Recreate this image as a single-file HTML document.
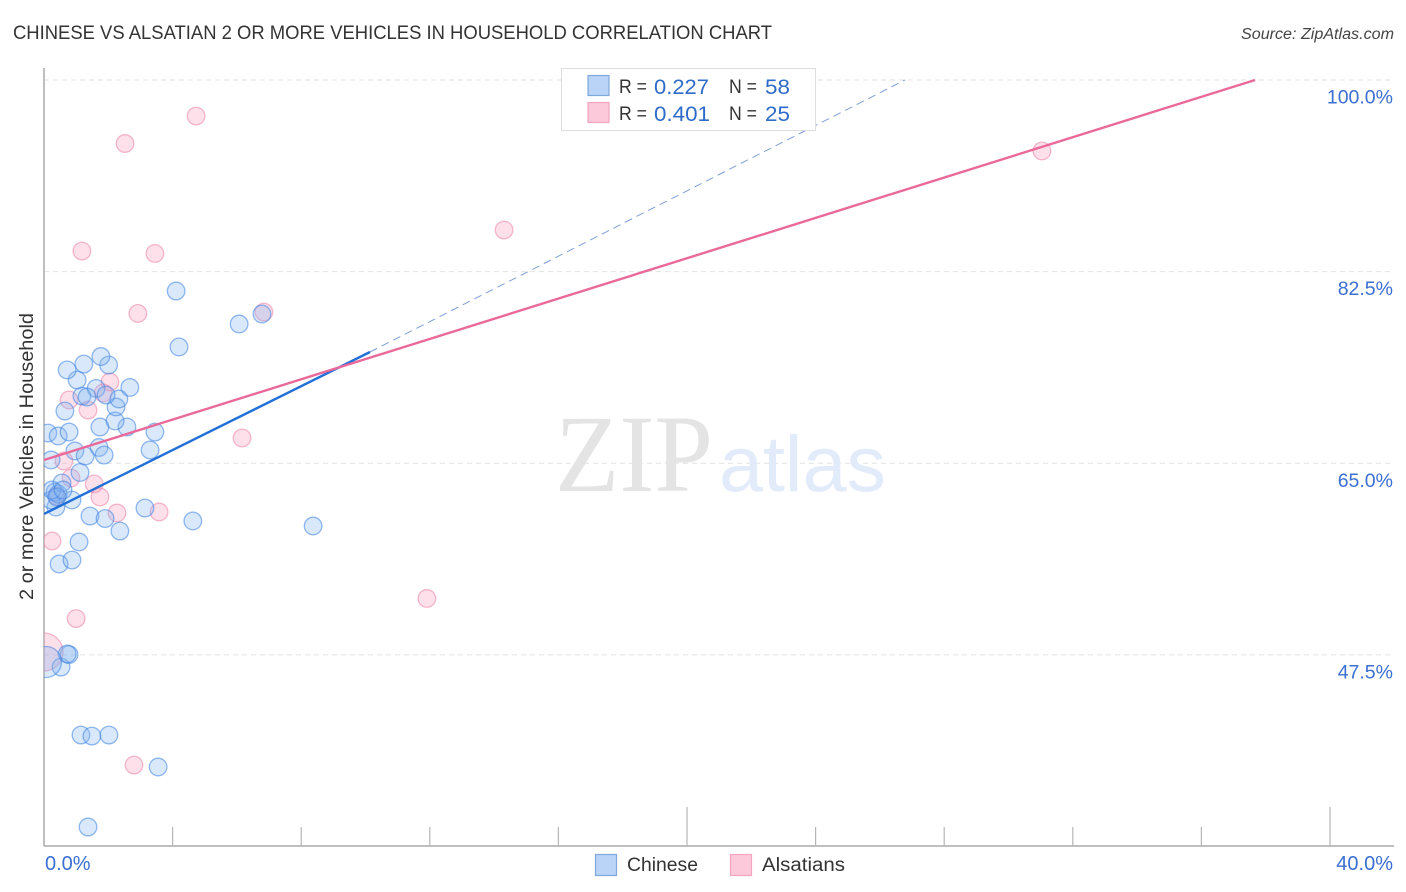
<!DOCTYPE html>
<html lang="en">
<head>
<meta charset="utf-8">
<title>Chinese vs Alsatian 2 or more Vehicles in Household Correlation Chart</title>
<style>
html,body{margin:0;padding:0;background:#fff;width:1406px;height:892px;overflow:hidden}
svg{display:block;font-family:"Liberation Sans",sans-serif}
</style>
</head>
<body>
<svg id="chart" width="1406" height="892" viewBox="0 0 1406 892" xmlns="http://www.w3.org/2000/svg">
  <defs><clipPath id="plot-clip"><rect x="44" y="68" width="1350" height="778"/></clipPath></defs>
  <text x="13" y="39" font-size="19" fill="#333" textLength="759" lengthAdjust="spacingAndGlyphs">CHINESE VS ALSATIAN 2 OR MORE VEHICLES IN HOUSEHOLD CORRELATION CHART</text>
  <text x="1241" y="39" font-size="15.5" font-style="italic" fill="#444" textLength="153" lengthAdjust="spacingAndGlyphs">Source: ZipAtlas.com</text>
  <text transform="translate(33,600) rotate(-90)" font-size="19" fill="#333" textLength="287" lengthAdjust="spacingAndGlyphs">2 or more Vehicles in Household</text>
  <g id="grid"></g>
  <g>
    <text x="555" y="491" font-family="'Liberation Serif',serif" font-size="110" fill="#e4e4e4" textLength="158" lengthAdjust="spacingAndGlyphs">ZIP</text>
    <text x="719" y="491" font-size="79" fill="#e2ebfa" textLength="167" lengthAdjust="spacingAndGlyphs">atlas</text>
  </g>
  <g id="axes"></g>
  <g id="alsatian-points" clip-path="url(#plot-clip)"></g>
  <g id="chinese-points" clip-path="url(#plot-clip)"></g>
  <g id="trends" clip-path="url(#plot-clip)"></g>
  <g>
    <rect x="561.5" y="68.5" width="254" height="62" fill="#fff" stroke="#ddd" stroke-width="1"/>
    <rect x="588" y="75.5" width="21" height="20" fill="#b9d4f7" stroke="#7fa9dc" stroke-width="1.2"/>
    <rect x="588" y="102.5" width="21" height="20" fill="#fcc9da" stroke="#f2a5bd" stroke-width="1.2"/>
    <text x="619" y="93" font-size="19" fill="#333" textLength="28" lengthAdjust="spacingAndGlyphs">R =</text>
    <text x="654" y="94" font-size="21.5" fill="#2f6cc9" textLength="55" lengthAdjust="spacingAndGlyphs">0.227</text>
    <text x="729" y="93" font-size="19" fill="#333" textLength="28" lengthAdjust="spacingAndGlyphs">N =</text>
    <text x="765" y="94" font-size="21.5" fill="#2f6cc9" textLength="25" lengthAdjust="spacingAndGlyphs">58</text>
    <text x="619" y="120" font-size="19" fill="#333" textLength="28" lengthAdjust="spacingAndGlyphs">R =</text>
    <text x="654" y="121" font-size="21.5" fill="#2f6cc9" textLength="56" lengthAdjust="spacingAndGlyphs">0.401</text>
    <text x="729" y="120" font-size="19" fill="#333" textLength="28" lengthAdjust="spacingAndGlyphs">N =</text>
    <text x="765" y="121" font-size="21.5" fill="#2f6cc9" textLength="25" lengthAdjust="spacingAndGlyphs">25</text>
  </g>
  <g>
    <rect x="595.5" y="854.5" width="21" height="21" fill="#b9d4f7" stroke="#7fa9dc" stroke-width="1.2"/>
    <text x="627" y="871" font-size="19" fill="#333" textLength="71" lengthAdjust="spacingAndGlyphs">Chinese</text>
    <rect x="730.5" y="854.5" width="21" height="21" fill="#fcc9da" stroke="#f2a5bd" stroke-width="1.2"/>
    <text x="762" y="871" font-size="19" fill="#333" textLength="83" lengthAdjust="spacingAndGlyphs">Alsatians</text>
  </g>
</svg>
<script>
const chineseX = [1.37,3.55,1.15,1.49,2.02,0.53,0.78,0.72,0.06,0.47,0.87,1.09,2.36,1.43,1.90,4.63,8.37,3.14,0.87,0.37,0.22,0.34,0.44,0.25,0.56,0.40,0.59,1.12,0.22,0.12,0.44,0.78,3.45,3.30,1.71,0.96,1.28,1.87,1.74,2.58,2.21,2.24,2.33,2.67,1.62,1.18,1.34,1.93,0.65,1.03,0.72,1.24,2.01,1.77,4.20,4.11,6.07,6.78];
const chineseY = [31.78,37.26,40.18,40.09,40.18,46.39,47.53,47.58,46.85,55.8,56.16,57.81,58.81,60.18,59.95,59.73,59.27,60.91,61.64,61.0,61.64,62.37,62.19,62.56,63.2,61.92,62.56,64.16,65.3,67.76,67.49,67.85,67.85,66.21,66.44,66.12,65.66,65.75,68.31,68.31,68.86,70.14,70.87,71.92,71.83,71.14,71.05,71.23,69.77,72.6,73.52,74.06,73.97,74.75,75.62,80.73,77.72,78.63];
const chineseLargeIndex = 8;
const alsatianX = [4.73,2.52,1.18,3.45,2.92,6.84,6.16,14.31,31.04,11.91,1.0,2.80,0,2.05,0.78,1.37,1.84,0.62,0.84,1.56,1.74,2.27,3.58,0.25,0.40];
const alsatianY = [96.71,94.2,84.38,84.16,78.68,78.81,67.31,86.3,93.52,52.65,50.82,37.44,47.76,72.42,70.78,69.86,71.42,65.21,63.65,63.11,61.92,60.46,60.55,57.9,62.01];
const alsatianLargeIndex = 12;
const chineseTrendX = [0,10.14];
const chineseTrendY = [60.37,75.16];
const chineseExtensionX = [10.14,26.78];
const chineseExtensionY = [75.16,100];
const alsatianTrendX = [0,37.67];
const alsatianTrendY = [65.3,100];
const yTicks = [100,82.5,65,47.5];
const yTickLabels = ["100.0%","82.5%","65.0%","47.5%"];
const xTicks = [4,8,12,16,20,24,28,32,36,40];
const xMajorTicks = [20,40];
const xEndLabels = ["0.0%","40.0%"];

const NS = "http://www.w3.org/2000/svg";
function sx(v){ return 44 + v * 32.15; }
function sy(v){ return 80 + (100 - v) * 10.95; }
function mk(parent, tag, attrs, text){
  const el = document.createElementNS(NS, tag);
  for (const k in attrs) el.setAttribute(k, attrs[k]);
  if (text !== undefined) el.textContent = text;
  parent.appendChild(el);
  return el;
}
const grid = document.getElementById("grid");
const axes = document.getElementById("axes");
yTicks.forEach(function(t, i){
  const line = mk(grid, "line", {x1:44, x2:1394, y1:sy(t), y2:sy(t), stroke:"#e2e2e2", "stroke-width":1, "stroke-dasharray":"5 4"});
  
  
  const label = mk(grid, "text", {x:1393, y:sy(t) + 23.5, "text-anchor":"end", "font-size":19.5, fill:"#3b6fd1"}, yTickLabels[i]);
  
  
});
const yAxis = mk(axes, "line", {x1:44, x2:44, y1:68, y2:846, stroke:"#aaa", "stroke-width":1.5});


const xAxis = mk(axes, "line", {x1:44, x2:1394, y1:846, y2:846, stroke:"#aaa", "stroke-width":1.5});


xTicks.forEach(function(t){
  const top = xMajorTicks.indexOf(t) >= 0 ? 807 : 827;
  const tick = mk(axes, "line", {x1:sx(t), x2:sx(t), y1:top, y2:846, stroke:"#b5b5b5", "stroke-width":1.2});
  
  
});
const xStart = mk(axes, "text", {x:45, y:870, "font-size":20, fill:"#3b6fd1"}, xEndLabels[0]);


const xEnd = mk(axes, "text", {x:1393, y:870, "text-anchor":"end", "font-size":20, fill:"#3b6fd1"}, xEndLabels[1]);



const alsatianGroup = document.getElementById("alsatian-points");
alsatianX.forEach(function(x, i){
  const big = i === alsatianLargeIndex;
  const c = mk(alsatianGroup, "circle", {cx:sx(x), cy:sy(alsatianY[i]), r:big ? 19 : 8.8, fill:"rgba(248,160,190,0.32)", stroke:"rgba(235,130,165,0.55)", "stroke-width":1.3});
  
  
});
const chineseGroup = document.getElementById("chinese-points");
chineseX.forEach(function(x, i){
  const big = i === chineseLargeIndex;
  const c = mk(chineseGroup, "circle", {cx:sx(x), cy:sy(chineseY[i]), r:big ? 15.5 : 8.8, fill:"rgba(130,180,240,0.3)", stroke:"rgba(60,130,225,0.55)", "stroke-width":1.3});
  
  
});
const trends = document.getElementById("trends");
const extLine = mk(trends, "line", {x1:sx(chineseExtensionX[0]), y1:sy(chineseExtensionY[0]), x2:sx(chineseExtensionX[1]), y2:sy(chineseExtensionY[1]), stroke:"#7f9fd6", "stroke-width":1, "stroke-dasharray":"8 5"});


const blueLine = mk(trends, "line", {x1:sx(chineseTrendX[0]), y1:sy(chineseTrendY[0]), x2:sx(chineseTrendX[1]), y2:sy(chineseTrendY[1]), stroke:"#2170d8", "stroke-width":2.4});


const pinkLine = mk(trends, "line", {x1:sx(alsatianTrendX[0]), y1:sy(alsatianTrendY[0]), x2:sx(alsatianTrendX[1]), y2:sy(alsatianTrendY[1]), stroke:"#e96a9a", "stroke-width":2.4});


</script>
</body>
</html>
